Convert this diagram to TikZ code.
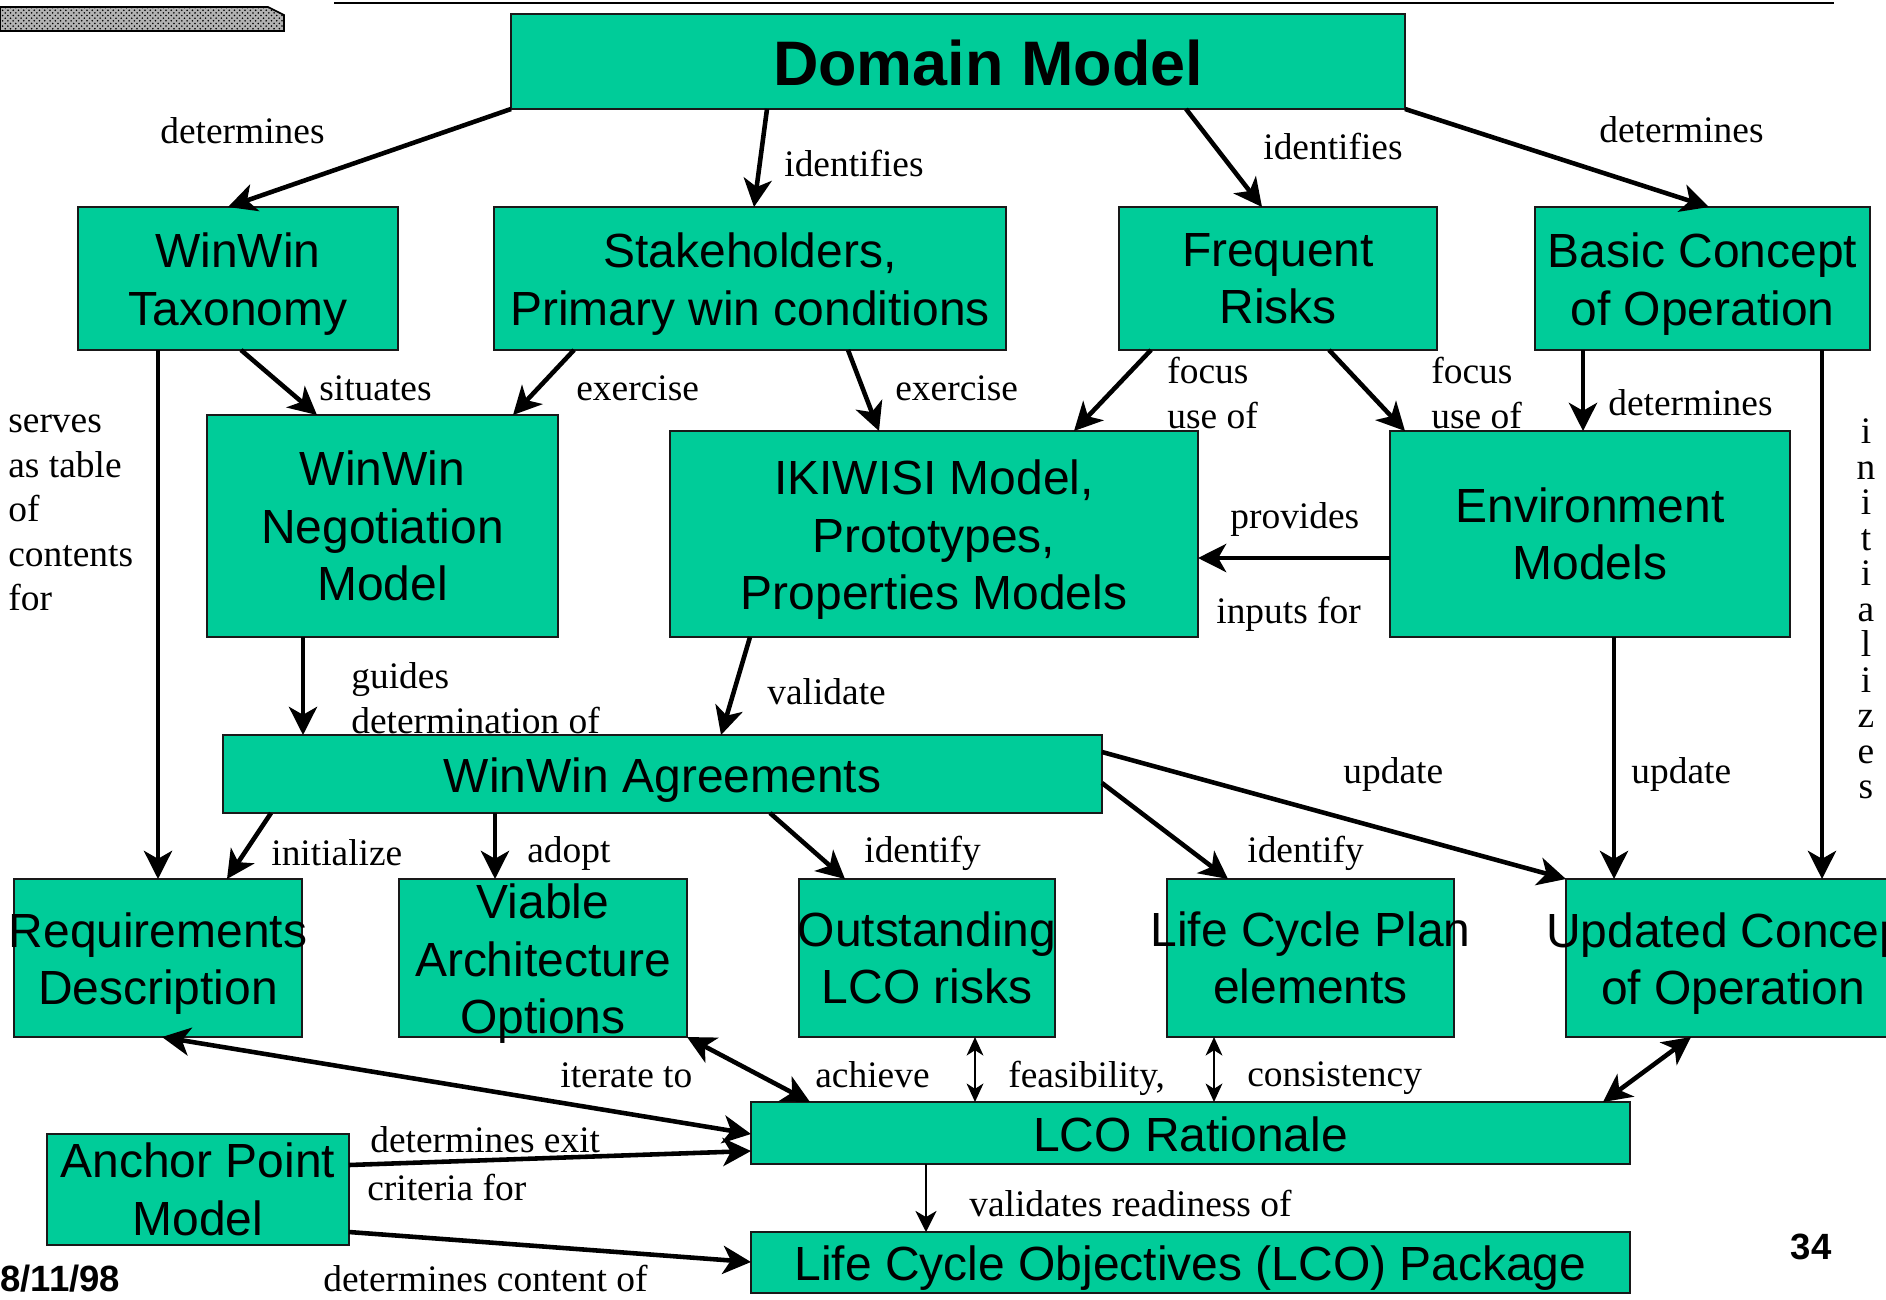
\documentclass[tikz,border=0pt]{standalone}
\usepackage{fontspec}
\setmainfont{Liberation Serif}
\newfontfamily\boxfont{Liberation Sans}
\usetikzlibrary{arrows.meta,patterns}
\definecolor{boxgreen}{HTML}{00CC99}
\newcommand{\mkbox}[5]{\node[box, minimum width={(#4-#2)*0.02cm}, minimum height={(#5-#3)*0.02cm}] (#1) at ({(#2+#4)/2},{(#3+#5)/2}) {};}
\tikzset{
  box/.style={draw=black!90, line width=1.3pt, fill=boxgreen, inner sep=0pt, outer sep=0pt},
  btextn/.style={font=\boxfont\fontsize{27.3}{32.7}\selectfont, align=center, inner sep=0pt},
  btext/.style={btextn, yshift=-3.2pt},
  lbl/.style={font=\fontsize{21.3}{25.3}\selectfont, anchor=west, inner sep=0pt, align=left},
  conn/.style={line width=2.6pt, -{Stealth[length=16pt,width=16pt,inset=4.5pt]}},
  thinconn/.style={line width=1.3pt, -{Stealth[length=12pt,width=12pt,inset=3.5pt]}},
  dblthick/.style={line width=2.6pt, {Stealth[length=16pt,width=16pt,inset=4.5pt]}-{Stealth[length=16pt,width=16pt,inset=4.5pt]}},
  dblthin/.style={line width=1.4pt, {Stealth[length=10.5pt,width=9.5pt,inset=3pt]}-{Stealth[length=10.5pt,width=9.5pt,inset=3pt]}},
  datetext/.style={font=\boxfont\bfseries\fontsize{20.8}{24}\selectfont, inner sep=0pt}
}
\begin{document}
\begin{tikzpicture}[x=0.02cm, y=-0.02cm]
\useasboundingbox (0,0) rectangle (1886,1299);
\clip (0,0) rectangle (1886,1299);
\fill[white] (0,0) rectangle (1886,1299);

% header decorations
\filldraw[fill=gray!60, draw=black, line width=0.9pt] (0,7) -- (268,7) -- (284,15) -- (284,31) -- (0,31) -- cycle;
\fill[pattern=crosshatch dots, pattern color=black] (0,7) -- (268,7) -- (284,15) -- (284,31) -- (0,31) -- cycle;
\draw[line width=1.3pt] (334,3) -- (1834,3);

% boxes
\mkbox{dm}{511}{14}{1405}{109}
\mkbox{wt}{78}{207}{398}{350}
\mkbox{sh}{494}{207}{1006}{350}
\mkbox{fr}{1119}{207}{1437}{350}
\mkbox{bc}{1535}{207}{1870}{350}
\mkbox{wn}{207}{415}{558}{637}
\mkbox{ik}{670}{431}{1198}{637}
\mkbox{em}{1390}{431}{1790}{637}
\mkbox{wa}{223}{735}{1102}{813}
\mkbox{rd}{14}{879}{302}{1037}
\mkbox{va}{399}{879}{687}{1037}
\mkbox{ol}{799}{879}{1055}{1037}
\mkbox{lp}{1167}{879}{1454}{1037}
\mkbox{uc}{1566}{879}{1900}{1037}
\mkbox{lr}{751}{1102}{1630}{1164}
\mkbox{pk}{751}{1232}{1630}{1293}
\mkbox{ap}{47}{1134}{349}{1245}

% box texts
\node[font=\boxfont\bfseries\fontsize{35.8}{40}\selectfont, inner sep=0pt] (dmT) at (988,63) {Domain Model};
\node[btext] (wtT) at (wt.center) {WinWin\\Taxonomy};
\node[btext] (shT) at (sh.center) {Stakeholders,\\Primary win conditions};
\node[btextn] (frT) at (fr.center) {Frequent\\Risks};
\node[btext] (bcT) at (bc.center) {Basic Concept\\of Operation};
\node[btextn] (wnT) at (wn.center) {WinWin\\Negotiation\\Model};
\node[btext] (ikT) at (ik.center) {IKIWISI Model,\\Prototypes,\\Properties Models};
\node[btextn] (emT) at (em.center) {Environment\\Models};
\node[btext] (waT) at (wa.center) {WinWin Agreements};
\node[btext] (rdT) at (rd.center) {Requirements\\Description};
\node[btext] (vaT) at (va.center) {Viable\\Architecture\\Options};
\node[btextn] (olT) at (ol.center) {Outstanding\\LCO risks};
\node[btextn] (lpT) at (lp.center) {Life Cycle Plan\\elements};
\node[btext] (ucT) at (uc.center) {Updated Concept\\of Operation};
\node[btextn, yshift=-0.8pt] (lrT) at (lr.center) {LCO Rationale};
\node[btext] (pkT) at (pk.center) {Life Cycle Objectives (LCO) Package};
\node[btextn] (apT) at (ap.center) {Anchor Point\\Model};

% connectors
\draw[conn] (dm.south west) -- (228,0 |- wt.north);
\draw[conn] (767,0 |- dm.south) -- (754,0 |- sh.north);
\draw[conn] (1186,0 |- dm.south) -- (1262,0 |- fr.north);
\draw[conn] (dm.south east) -- (1709,0 |- bc.north);
\draw[conn] (241,0 |- wt.south) -- (317,0 |- wn.north);
\draw[conn] (574,0 |- sh.south) -- (513,0 |- wn.north);
\draw[conn] (848,0 |- sh.south) -- (879,0 |- ik.north);
\draw[conn] (1151,0 |- fr.south) -- (1074,0 |- ik.north);
\draw[conn] (1329,0 |- fr.south) -- (1405,0 |- em.north);
\draw[conn] (1583,0 |- bc.south) -- (1583,0 |- em.north);
\draw[conn] (1822,0 |- bc.south) -- (1822,0 |- uc.north);
\draw[conn] (158,0 |- wt.south) -- (158,0 |- rd.north);
\draw[conn] (em.west |- 0,558) -- (ik.east |- 0,558);
\draw[conn] (303,0 |- wn.south) -- (303,0 |- wa.north);
\draw[conn] (750,0 |- ik.south) -- (721,0 |- wa.north);
\draw[conn] (1614,0 |- em.south) -- (1614,0 |- uc.north);
\draw[conn] (wa.east |- 0,752) -- (uc.north west);
\draw[conn] (wa.east |- 0,783) -- (1228,0 |- lp.north);
\draw[conn] (770,0 |- wa.south) -- (845,0 |- ol.north);
\draw[conn] (495,0 |- wa.south) -- (495,0 |- va.north);
\draw[conn] (271,0 |- wa.south) -- (227,0 |- rd.north);
\draw[dblthick] (162,0 |- rd.south) -- (lr.west |- 0,1134);
\draw[dblthick] (va.south east) -- (810,0 |- lr.north);
\draw[dblthin] (975,0 |- ol.south) -- (975,0 |- lr.north);
\draw[dblthin] (1214,0 |- lp.south) -- (1214,0 |- lr.north);
\draw[dblthick] (1691,0 |- uc.south) -- (1603,0 |- lr.north);
\draw[conn] (ap.east |- 0,1165) -- (lr.west |- 0,1151);
\draw[conn] (ap.east |- 0,1232) -- (pk.west |- 0,1262);
\draw[thinconn] (926,0 |- lr.south) -- (926,0 |- pk.north);

% labels
\node[lbl] (l1) at (160,131) {determines};
\node[lbl] (l2) at (784,164) {identifies};
\node[lbl] (l3) at (1263,147) {identifies};
\node[lbl] (l4) at (1599,130) {determines};
\node[lbl] (l5) at (319,388) {situates};
\node[lbl] (l6) at (576,388) {exercise};
\node[lbl] (l7) at (895,388) {exercise};
\node[lbl] (l8) at (1167,393) {focus\\use of};
\node[lbl] (l9) at (1431,393) {focus\\use of};
\node[lbl] (l10) at (1608,403) {determines};
\node[lbl] (l11) at (8,513) {serves\\as table\\of\\contents\\for};
\node[font=\fontsize{21.3}{20.2}\selectfont, inner sep=0pt, align=center] (l12) at (1866,609) {i\\n\\i\\t\\i\\a\\l\\i\\z\\e\\s};
\node[lbl] (l13) at (1230,519) {provides};
\node[lbl] (l14) at (1216,614) {inputs for};
\node[lbl] (l15) at (351,698) {guides\\determination of};
\node[lbl] (l16) at (767,692) {validate};
\node[lbl] (l17) at (1343,774) {update};
\node[lbl] (l18) at (1631,774) {update};
\node[lbl] (l19) at (271,853) {initialize};
\node[lbl] (l20) at (527,853) {adopt};
\node[lbl] (l21) at (864,853) {identify};
\node[lbl] (l22) at (1247,853) {identify};
\node[lbl] (l23) at (560,1075) {iterate to};
\node[lbl] (l24) at (815,1075) {achieve};
\node[lbl] (l25) at (1008,1078) {feasibility,};
\node[lbl] (l26) at (1247,1078) {consistency};
\node[lbl] (l27) at (370,1140) {determines exit};
\node[lbl] (l28) at (367,1187) {criteria for};
\node[lbl] (l29) at (969,1203) {validates readiness of};
\node[lbl] (l30) at (323,1278) {determines content of};
\node[datetext, anchor=west] (date) at (0,1279) {8/11/98};
\node[datetext] (pageno) at (1811,1247) {34};
\end{tikzpicture}
\end{document}
